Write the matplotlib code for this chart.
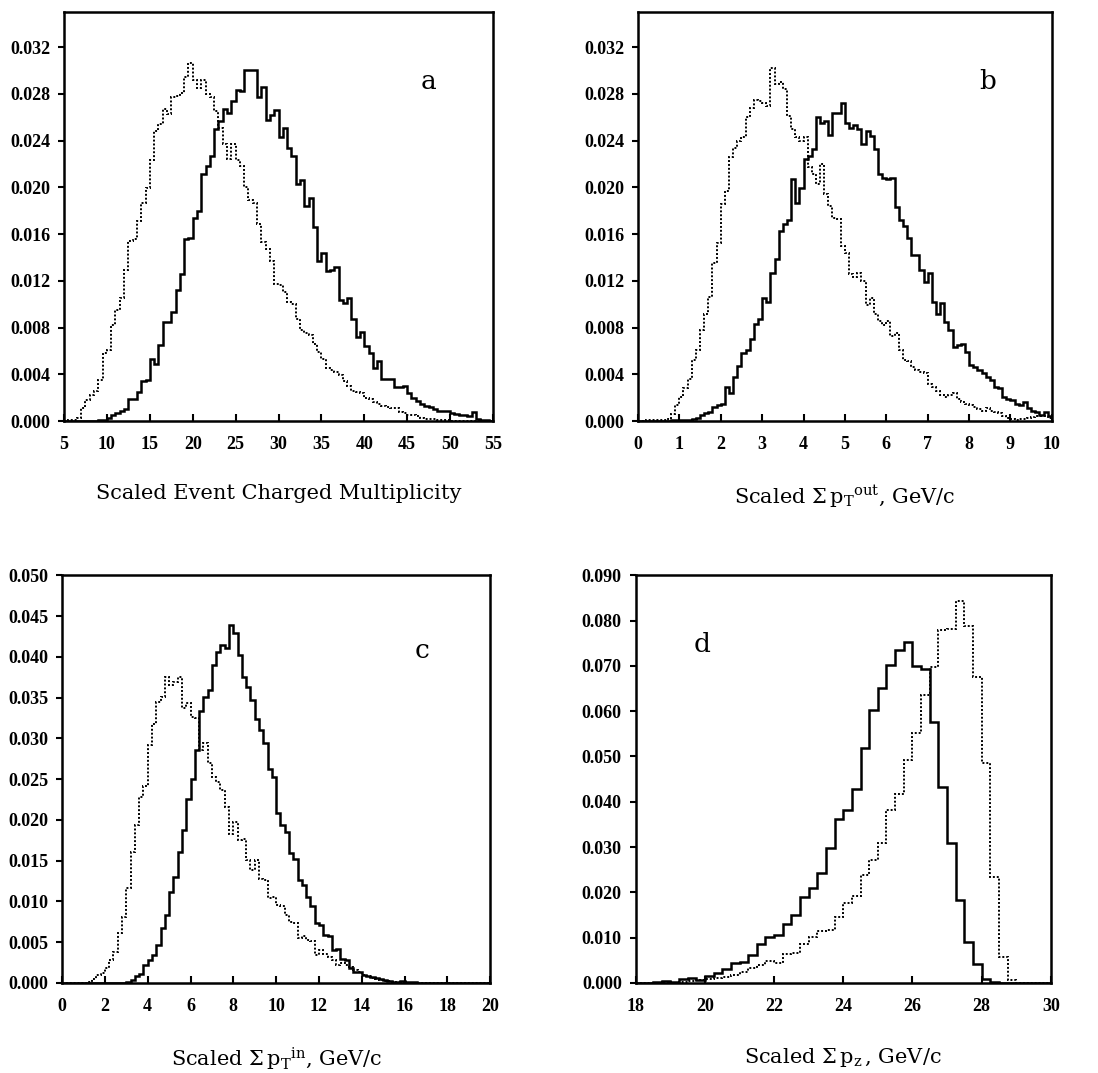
import matplotlib
matplotlib.use("Agg")
import matplotlib.pyplot as plt
import numpy as np

plt.rcParams["font.family"] = ["DejaVu Serif"]
plt.rcParams["mathtext.fontset"] = "custom"
plt.rcParams["mathtext.rm"] = "DejaVu Serif"
plt.rcParams["mathtext.it"] = "DejaVu Serif:italic"

# bin contents are given in units of 1e-3
SCALE = 1e-3

# ---- (a) charged multiplicity, bins of 0.5 from 5 to 55
mult_solid = [
    0, 0, 0, 0, 0, 0, 0, 0, 0.05, 0.1,
    0.3, 0.5, 0.7, 0.9, 1.0, 1.9, 1.9, 2.5, 3.4, 3.5,
    5.3, 4.9, 6.5, 8.5, 8.5, 9.3, 11.2, 12.6, 15.6, 15.7,
    17.4, 18.0, 21.1, 21.8, 22.7, 25.0, 25.7, 26.7, 26.4, 27.4,
    28.3, 28.2, 30.0, 30.0, 30.0, 27.7, 28.6, 25.8, 26.2, 26.6,
    24.3, 25.1, 23.4, 22.7, 20.3, 20.6, 18.4, 19.1, 16.6, 13.7,
    14.4, 12.8, 12.9, 13.2, 10.4, 10.1, 10.5, 8.7, 7.2, 7.6,
    6.4, 5.8, 4.5, 5.1, 3.6, 3.6, 3.6, 2.9, 2.9, 3.0,
    2.4, 2.0, 1.7, 1.5, 1.3, 1.2, 1.0, 0.9, 0.85, 0.9,
    0.7, 0.6, 0.5, 0.5, 0.4, 0.8, 0.2, 0.1, 0.1, 0.0,
]
mult_dotted = [
    0, 0.05, 0.05, 0.3, 1.1, 1.8, 2.2, 2.6, 3.5, 5.8,
    6.1, 8.2, 9.5, 10.5, 12.9, 15.4, 15.6, 17.1, 18.7, 19.9,
    22.3, 24.8, 25.4, 26.7, 26.3, 27.7, 27.8, 28.1, 29.4, 30.6,
    29.2, 28.5, 29.2, 28.0, 27.7, 26.5, 25.1, 23.7, 22.4, 23.7,
    22.3, 21.8, 20.0, 18.9, 18.7, 16.9, 15.3, 14.7, 13.7, 11.7,
    11.6, 11.0, 10.2, 10.0, 8.7, 7.8, 7.5, 7.4, 6.6, 5.9,
    5.3, 4.5, 4.4, 4.2, 3.9, 3.4, 3.0, 2.6, 2.5, 2.4,
    2.0, 1.9, 1.6, 1.5, 1.3, 1.2, 1.1, 1.1, 0.8, 0.7,
    0.5, 0.5, 0.4, 0.3, 0.2, 0.2, 0.15, 0.1, 0.1, 0.05,
    0, 0, 0, 0, 0, 0, 0, 0, 0, 0,
]

# ---- (b) sum pT out, bins of 0.1 from 0 to 10
ptout_solid = [
    0, 0, 0, 0, 0, 0, 0, 0, 0.05, 0.1,
    0.1, 0.1, 0.1, 0.15, 0.3, 0.5, 0.65, 0.8, 1.2, 1.4,
    1.5, 2.9, 2.4, 3.8, 4.7, 5.8, 6.1, 7.0, 8.3, 8.7,
    10.5, 10.2, 12.7, 13.9, 16.3, 16.9, 17.2, 20.7, 18.7, 19.9,
    22.4, 22.7, 23.3, 26.0, 25.5, 25.7, 24.5, 26.4, 26.4, 27.2,
    25.5, 25.1, 25.3, 25.0, 23.7, 24.8, 24.4, 23.3, 21.1, 20.8,
    20.7, 20.8, 18.3, 17.2, 16.7, 15.7, 14.2, 14.2, 12.9, 11.9,
    12.7, 10.2, 9.2, 10.1, 8.5, 7.8, 6.3, 6.5, 6.6, 5.9,
    4.8, 4.6, 4.4, 4.1, 3.8, 3.5, 2.9, 2.8, 2.1, 1.9,
    1.8, 1.5, 1.4, 1.65, 1.1, 0.9, 0.8, 0.5, 0.8, 0.4,
]
ptout_dotted = [
    0, 0, 0.05, 0.05, 0.05, 0.05, 0.1, 0.2, 0.6, 1.4,
    2.1, 2.8, 3.6, 5.2, 6.1, 7.8, 9.2, 10.6, 13.5, 15.2,
    18.6, 19.7, 22.6, 23.4, 24.0, 24.3, 26.0, 26.8, 27.5, 27.4,
    27.2, 27.0, 30.2, 28.8, 29.0, 28.4, 26.1, 25.0, 24.3, 24.0,
    24.3, 21.7, 21.1, 20.3, 22.0, 19.4, 18.4, 17.4, 17.3, 15.0,
    14.4, 12.6, 12.3, 12.7, 12.0, 9.9, 10.5, 9.2, 8.6, 8.2,
    8.6, 7.3, 7.5, 6.1, 5.2, 5.1, 4.6, 4.4, 4.2, 4.1,
    3.2, 2.9, 2.6, 2.2, 2.1, 2.2, 2.4, 1.9, 1.65, 1.5,
    1.4, 1.2, 1.0, 0.9, 1.1, 0.9, 0.8, 0.65, 0.4, 0.3,
    0.2, 0.1, 0.15, 0.2, 0.3, 0.35, 0.4, 0.4, 0.4, 0.3,
]

# ---- (c) sum pT in, bins of 0.2 from 0 to 20
ptin_solid = [
    0, 0, 0, 0, 0, 0, 0, 0, 0, 0,
    0.05, 0.05, 0.05, 0.05, 0.05, 0.15, 0.4, 0.8, 1.1, 2.2,
    2.8, 3.4, 4.7, 6.7, 8.3, 11.2, 13.0, 16.1, 18.8, 22.6,
    25.0, 28.6, 33.3, 35.1, 35.9, 39.0, 40.6, 41.4, 41.1, 43.9,
    42.9, 40.2, 37.5, 36.3, 34.7, 32.4, 31.0, 29.4, 26.3, 25.3,
    20.8, 19.4, 18.5, 15.9, 15.2, 12.6, 12.0, 10.6, 9.4, 7.4,
    7.1, 5.9, 5.8, 4.0, 4.2, 3.0, 2.8, 1.8, 1.4, 1.3,
    1.0, 0.85, 0.7, 0.6, 0.5, 0.35, 0.2, 0.15, 0.15, 0.25,
    0.15, 0.1, 0.15, 0.05, 0, 0, 0, 0, 0, 0,
    0, 0, 0, 0, 0, 0, 0, 0, 0, 0,
]
ptin_dotted = [
    0, 0, 0, 0, 0, 0.05, 0.15, 0.45, 1.0, 1.2,
    1.8, 2.8, 3.8, 6.1, 8.1, 11.6, 16.1, 19.4, 22.8, 24.1,
    29.2, 31.8, 34.5, 35.1, 37.5, 36.5, 36.9, 37.5, 33.7, 34.3,
    32.6, 32.5, 28.6, 29.4, 27.0, 25.3, 24.7, 23.7, 21.6, 18.3,
    19.8, 17.5, 17.6, 15.1, 13.8, 15.1, 12.8, 12.6, 10.4, 10.6,
    9.6, 9.4, 8.3, 7.5, 7.3, 5.5, 5.7, 5.3, 5.1, 3.4,
    4.0, 3.6, 3.2, 2.8, 2.2, 2.4, 2.2, 2.0, 1.6, 1.4,
    1.0, 0.8, 0.6, 0.45, 0.35, 0.3, 0.2, 0.15, 0.1, 0.1,
    0.05, 0, 0, 0, 0, 0, 0, 0, 0, 0,
    0, 0, 0, 0, 0, 0, 0, 0, 0, 0,
]

# ---- (d) sum pz, bins of 0.25 from 18 to 30
pz_solid = [
    0.05, 0.1, 0.2, 0.35, 0.2, 0.9, 1.0, 0.7, 1.6, 2.1,
    3.0, 4.5, 4.6, 6.2, 8.6, 10.1, 10.6, 13.0, 15.0, 19.0,
    20.9, 24.3, 29.9, 36.1, 38.2, 42.9, 51.8, 60.2, 65.0, 70.1,
    73.6, 75.3, 69.9, 69.4, 57.6, 43.3, 30.9, 18.3, 9.0, 4.1,
    0.8, 0.2, 0, 0, 0, 0, 0, 0,
]
pz_dotted = [
    0.05, 0.05, 0.05, 0.05, 0.05, 0.3, 0.5, 0.7, 0.8, 1.0,
    1.4, 1.8, 2.5, 3.2, 3.9, 4.8, 4.5, 6.4, 6.6, 8.6,
    10.2, 11.5, 11.7, 14.5, 17.6, 19.1, 23.9, 27.2, 30.9, 38.2,
    41.8, 49.2, 55.1, 63.5, 69.8, 77.9, 78.2, 84.3, 78.8, 67.6,
    48.5, 23.5, 5.7, 0.7, 0.1, 0, 0, 0,
]

panels = [
    dict(solid=mult_solid, dotted=mult_dotted, edges=np.linspace(5, 55, 101),
         xticks=np.arange(5, 56, 5), ymax=0.035, yticks=np.arange(0, 0.0321, 0.004),
         xlabel="Scaled Event Charged Multiplicity", tag="a", tagpos=(0.85, 0.83),
         rect=[0.0583, 0.6076, 0.3907, 0.3812]),
    dict(solid=ptout_solid, dotted=ptout_dotted, edges=np.linspace(0, 10, 101),
         xticks=np.arange(0, 11, 1), ymax=0.035, yticks=np.arange(0, 0.0321, 0.004),
         xlabel=r"Scaled $\Sigma\,{\mathrm{p}_\mathrm{T}}^{\mathrm{out}}$, GeV/c",
         tag="b", tagpos=(0.845, 0.83),
         rect=[0.581, 0.6076, 0.377, 0.3812]),
    dict(solid=ptin_solid, dotted=ptin_dotted, edges=np.linspace(0, 20, 101),
         xticks=np.arange(0, 21, 2), ymax=0.050, yticks=np.arange(0, 0.0501, 0.005),
         xlabel=r"Scaled $\Sigma\,{\mathrm{p}_\mathrm{T}}^{\mathrm{in}}$, GeV/c",
         tag="c", tagpos=(0.84, 0.815),
         rect=[0.0565, 0.0839, 0.390, 0.380]),
    dict(solid=pz_solid, dotted=pz_dotted, edges=np.linspace(18, 30, 49),
         xticks=np.arange(18, 31, 2), ymax=0.090, yticks=np.arange(0, 0.0901, 0.010),
         xlabel=r"Scaled $\Sigma\,\mathrm{p}_\mathrm{z}\,$, GeV/c",
         tag="d", tagpos=(0.16, 0.83),
         rect=[0.579, 0.0839, 0.378, 0.380]),
]

fig = plt.figure(figsize=(10.98, 10.73), dpi=100)

for p in panels:
    ax = fig.add_axes(p["rect"])
    edges = p["edges"]
    ax.stairs(np.array(p["dotted"]) * SCALE, edges, color="black",
              linewidth=1.4, linestyle=(0, (1, 1)))
    ax.stairs(np.array(p["solid"]) * SCALE, edges, color="black", linewidth=1.8)

    ax.set_xlim(edges[0], edges[-1])
    ax.set_ylim(0, p["ymax"])
    ax.set_xticks(p["xticks"])
    ax.set_yticks(p["yticks"])
    ax.set_xticklabels([f"{t:g}" for t in p["xticks"]])
    ax.set_yticklabels([f"{t:.3f}" for t in p["yticks"]])

    for lab in ax.get_xticklabels() + ax.get_yticklabels():
        lab.set_family("Liberation Serif")
        lab.set_weight("bold")
        lab.set_fontsize(13)

    ax.tick_params(axis="x", direction="in", length=5, width=1.5, pad=11)
    ax.tick_params(axis="y", direction="out", length=4, width=1.5, pad=6)
    for s in ax.spines.values():
        s.set_linewidth(1.8)

    ax.set_xlabel(p["xlabel"], fontsize=15, labelpad=22)
    ax.text(p["tagpos"][0], p["tagpos"][1], p["tag"], transform=ax.transAxes,
            fontsize=19, ha="center", va="center")

fig.savefig("out.png", dpi=100)
